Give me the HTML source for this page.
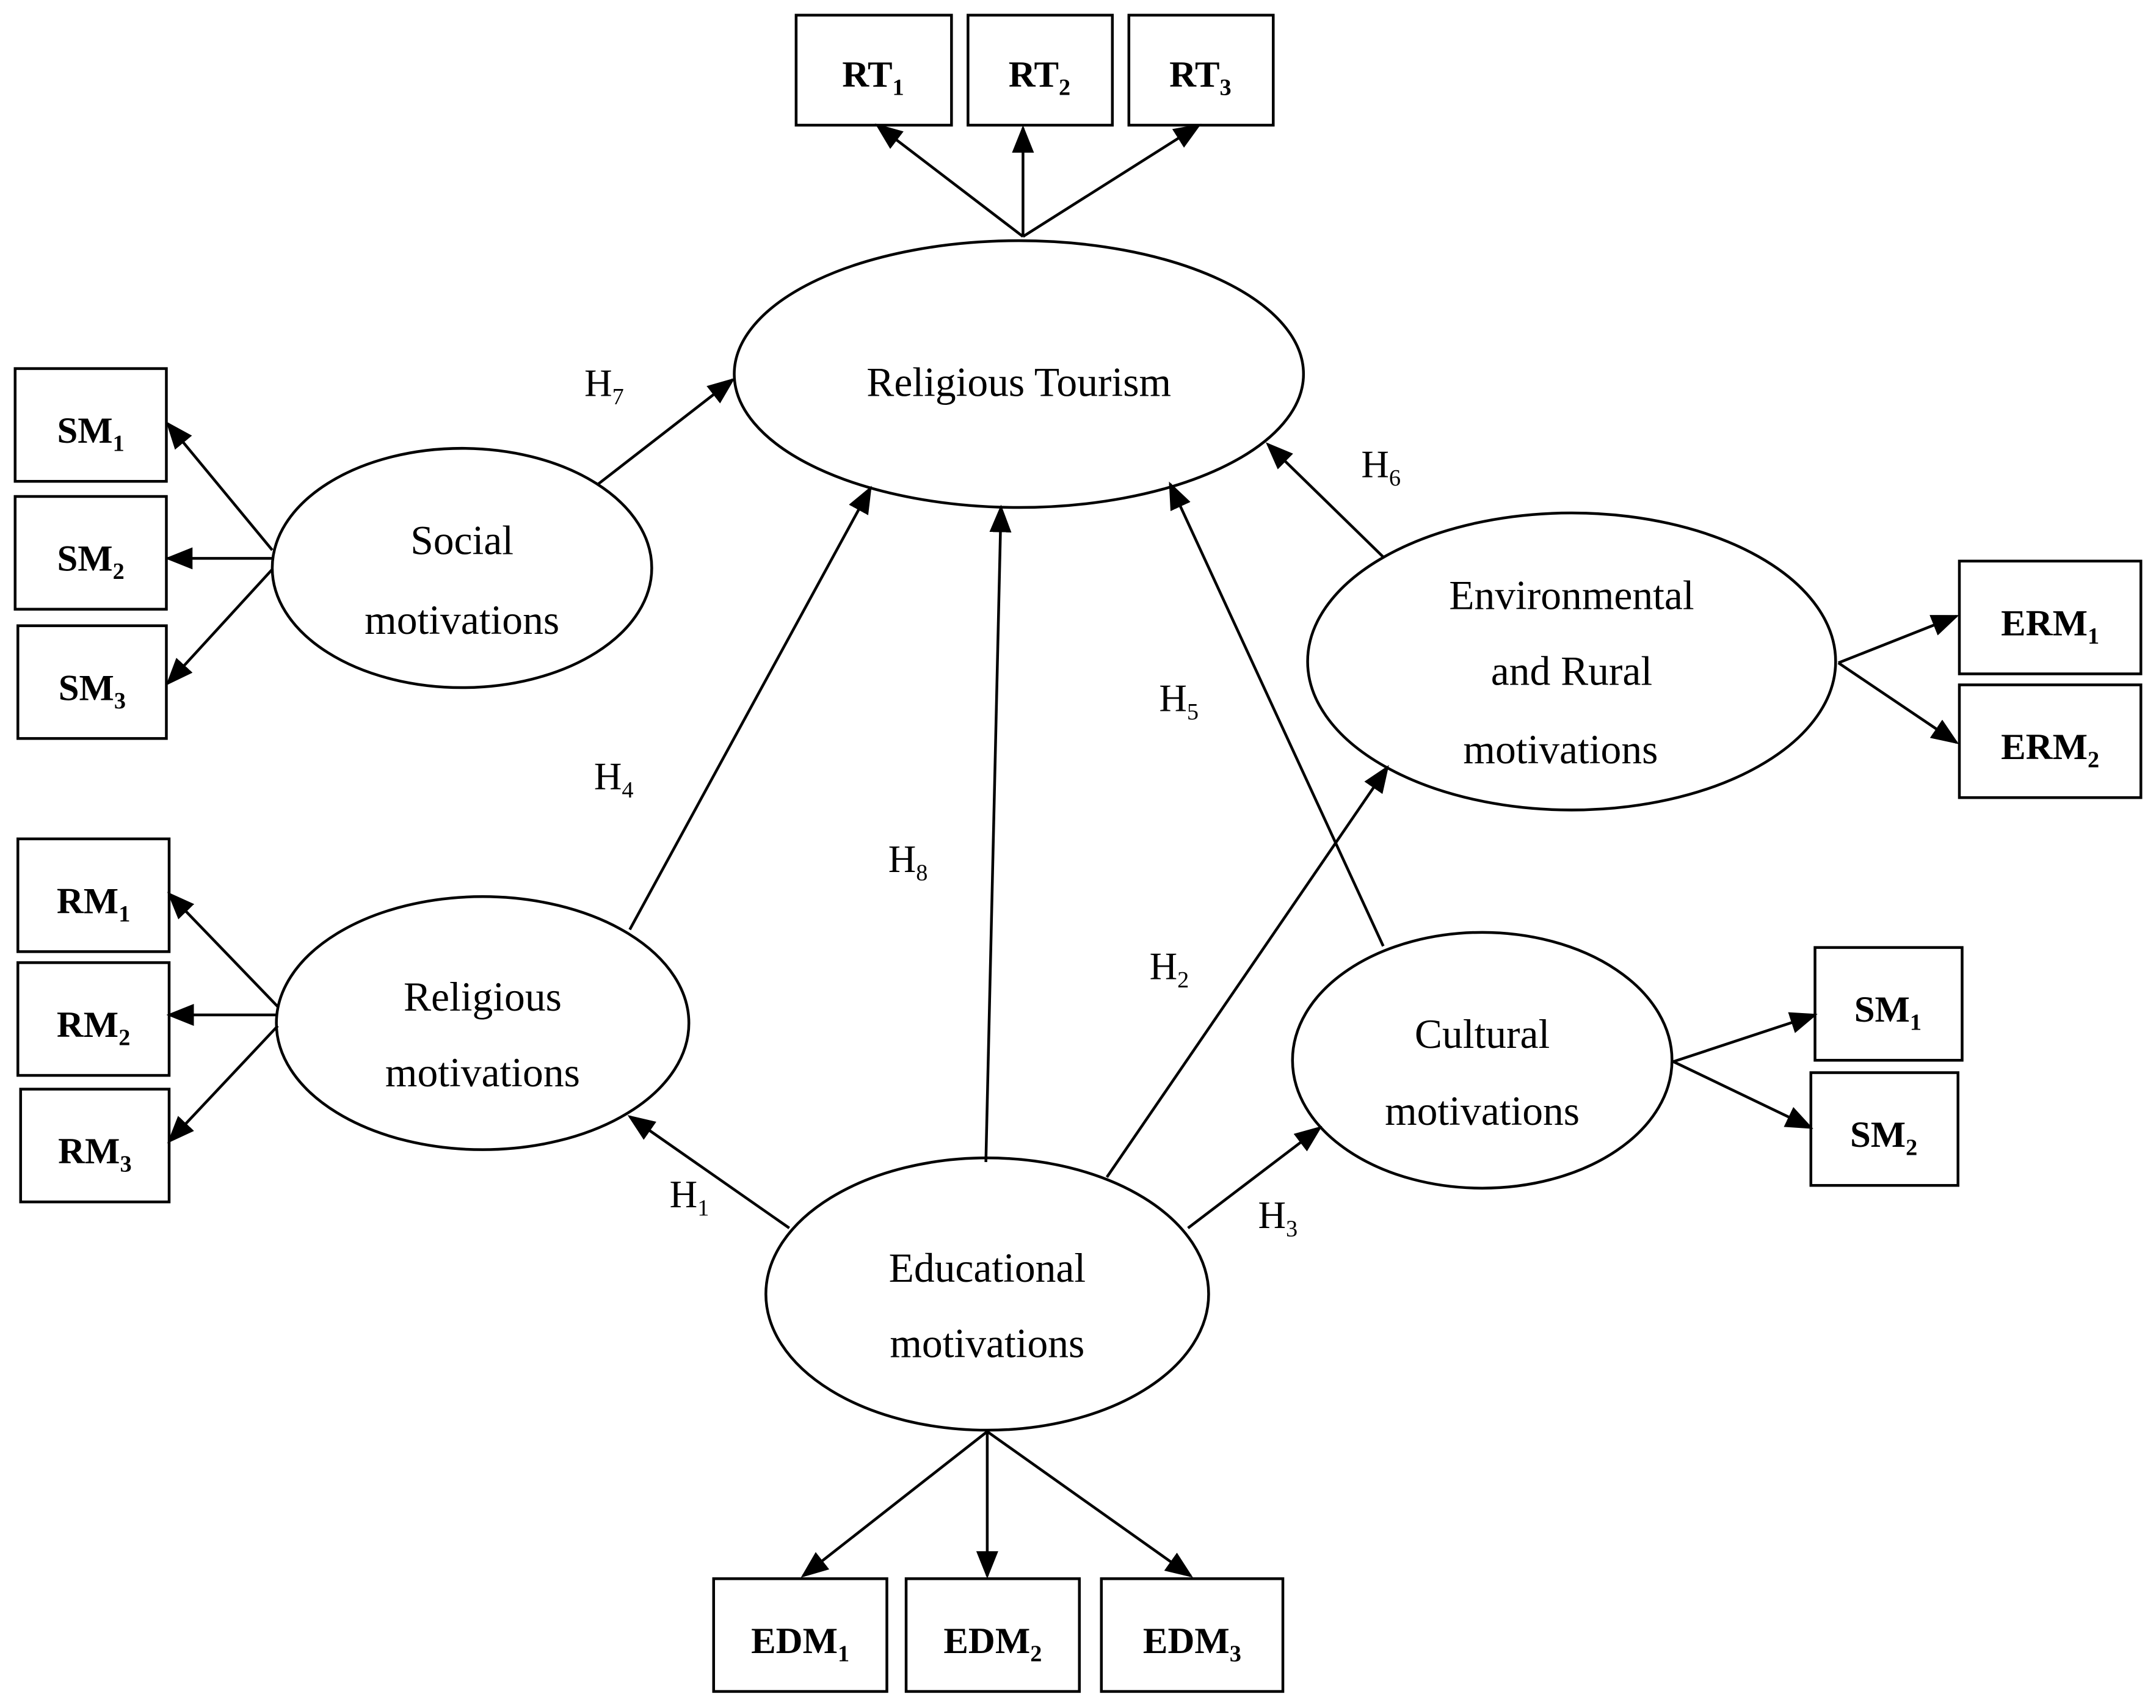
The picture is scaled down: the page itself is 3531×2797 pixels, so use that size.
<!DOCTYPE html>
<html><head><meta charset="utf-8"><style>
html,body{margin:0;padding:0;background:#fff;}
svg{display:block;}
text{font-family:"Liberation Serif",serif;fill:#000;}
.b{font-weight:bold;font-size:27px;}
.e{font-size:30px;}
.h{font-size:28px;}
</style></head><body>
<svg width="3531" height="2797" viewBox="0 0 1568 1242" xmlns="http://www.w3.org/2000/svg">
<defs>
<marker id="a" markerUnits="userSpaceOnUse" markerWidth="20" markerHeight="16" refX="18" refY="8" orient="auto">
<path d="M0,0 L20,8 L0,16 z" fill="#000"/>
</marker>
</defs>
<g fill="#fff" stroke="#000" stroke-width="2">
<rect x="579" y="11" width="113" height="80"/>
<rect x="704" y="11" width="105" height="80"/>
<rect x="821" y="11" width="105" height="80"/>
<rect x="11" y="268" width="110" height="82"/>
<rect x="11" y="361" width="110" height="82"/>
<rect x="13" y="455" width="108" height="82"/>
<rect x="13" y="610" width="110" height="82"/>
<rect x="13" y="700" width="110" height="82"/>
<rect x="15" y="792" width="108" height="82"/>
<rect x="1425" y="408" width="132" height="82"/>
<rect x="1425" y="498" width="132" height="82"/>
<rect x="1320" y="689" width="107" height="82"/>
<rect x="1317" y="780" width="107" height="82"/>
<rect x="519" y="1148" width="126" height="82"/>
<rect x="659" y="1148" width="126" height="82"/>
<rect x="801" y="1148" width="132" height="82"/>
<ellipse cx="741" cy="272" rx="207" ry="97"/>
<ellipse cx="336" cy="413" rx="138" ry="87"/>
<ellipse cx="351" cy="744" rx="150" ry="92"/>
<ellipse cx="1143" cy="481" rx="192" ry="108"/>
<ellipse cx="1078" cy="771" rx="138" ry="93"/>
<ellipse cx="718" cy="941" rx="161" ry="99"/>
</g>
<g stroke="#000" stroke-width="2" marker-end="url(#a)">
<line x1="744" y1="172" x2="638" y2="91"/>
<line x1="744" y1="172" x2="744" y2="93"/>
<line x1="744" y1="172" x2="872" y2="91"/>
<line x1="198" y1="400" x2="122" y2="308"/>
<line x1="198" y1="406" x2="122" y2="406"/>
<line x1="198" y1="414" x2="122" y2="497"/>
<line x1="202" y1="732" x2="123" y2="650"/>
<line x1="202" y1="738" x2="123" y2="738"/>
<line x1="202" y1="746" x2="123" y2="830"/>
<line x1="1337" y1="482" x2="1423" y2="448"/>
<line x1="1337" y1="482" x2="1423" y2="540"/>
<line x1="1217" y1="772" x2="1320" y2="738"/>
<line x1="1217" y1="772" x2="1317" y2="820"/>
<line x1="718" y1="1041" x2="584" y2="1146"/>
<line x1="718" y1="1041" x2="718" y2="1146"/>
<line x1="718" y1="1041" x2="866" y2="1146"/>
<line x1="435" y1="352" x2="533" y2="276"/>
<line x1="458" y1="676" x2="633" y2="355"/>
<line x1="717" y1="845" x2="728" y2="369"/>
<line x1="1006" y1="688" x2="851" y2="352"/>
<line x1="1006" y1="405" x2="922" y2="323"/>
<line x1="805" y1="856" x2="1009" y2="558"/>
<line x1="574" y1="893" x2="458" y2="812"/>
<line x1="864" y1="893" x2="960" y2="820"/>
</g>
<g class="b" text-anchor="middle">
<text x="635" y="63">RT<tspan font-size="17" dy="6">1</tspan></text>
<text x="756" y="63">RT<tspan font-size="17" dy="6">2</tspan></text>
<text x="873" y="63">RT<tspan font-size="17" dy="6">3</tspan></text>
<text x="66" y="322">SM<tspan font-size="17" dy="6">1</tspan></text>
<text x="66" y="415">SM<tspan font-size="17" dy="6">2</tspan></text>
<text x="67" y="509">SM<tspan font-size="17" dy="6">3</tspan></text>
<text x="68" y="664">RM<tspan font-size="17" dy="6">1</tspan></text>
<text x="68" y="754">RM<tspan font-size="17" dy="6">2</tspan></text>
<text x="69" y="846">RM<tspan font-size="17" dy="6">3</tspan></text>
<text x="1491" y="462">ERM<tspan font-size="17" dy="6">1</tspan></text>
<text x="1491" y="552">ERM<tspan font-size="17" dy="6">2</tspan></text>
<text x="1373" y="743">SM<tspan font-size="17" dy="6">1</tspan></text>
<text x="1370" y="834">SM<tspan font-size="17" dy="6">2</tspan></text>
<text x="582" y="1202">EDM<tspan font-size="17" dy="6">1</tspan></text>
<text x="722" y="1202">EDM<tspan font-size="17" dy="6">2</tspan></text>
<text x="867" y="1202">EDM<tspan font-size="17" dy="6">3</tspan></text>
</g>
<g class="e" text-anchor="middle">
<text x="741" y="288">Religious Tourism</text>
<text x="336" y="403">Social</text>
<text x="336" y="461">motivations</text>
<text x="351" y="735">Religious</text>
<text x="351" y="790">motivations</text>
<text x="1143" y="443">Environmental</text>
<text x="1143" y="498">and Rural</text>
<text x="1135" y="555">motivations</text>
<text x="1078" y="762">Cultural</text>
<text x="1078" y="818">motivations</text>
<text x="718" y="932">Educational</text>
<text x="718" y="987">motivations</text>
</g>
<g class="h">
<text x="425" y="288">H<tspan font-size="17" dy="6">7</tspan></text>
<text x="432" y="574">H<tspan font-size="17" dy="6">4</tspan></text>
<text x="646" y="634">H<tspan font-size="17" dy="6">8</tspan></text>
<text x="843" y="517">H<tspan font-size="17" dy="6">5</tspan></text>
<text x="990" y="347">H<tspan font-size="17" dy="6">6</tspan></text>
<text x="836" y="712">H<tspan font-size="17" dy="6">2</tspan></text>
<text x="487" y="878">H<tspan font-size="17" dy="6">1</tspan></text>
<text x="915" y="893">H<tspan font-size="17" dy="6">3</tspan></text>
</g>
</svg>
</body></html>
